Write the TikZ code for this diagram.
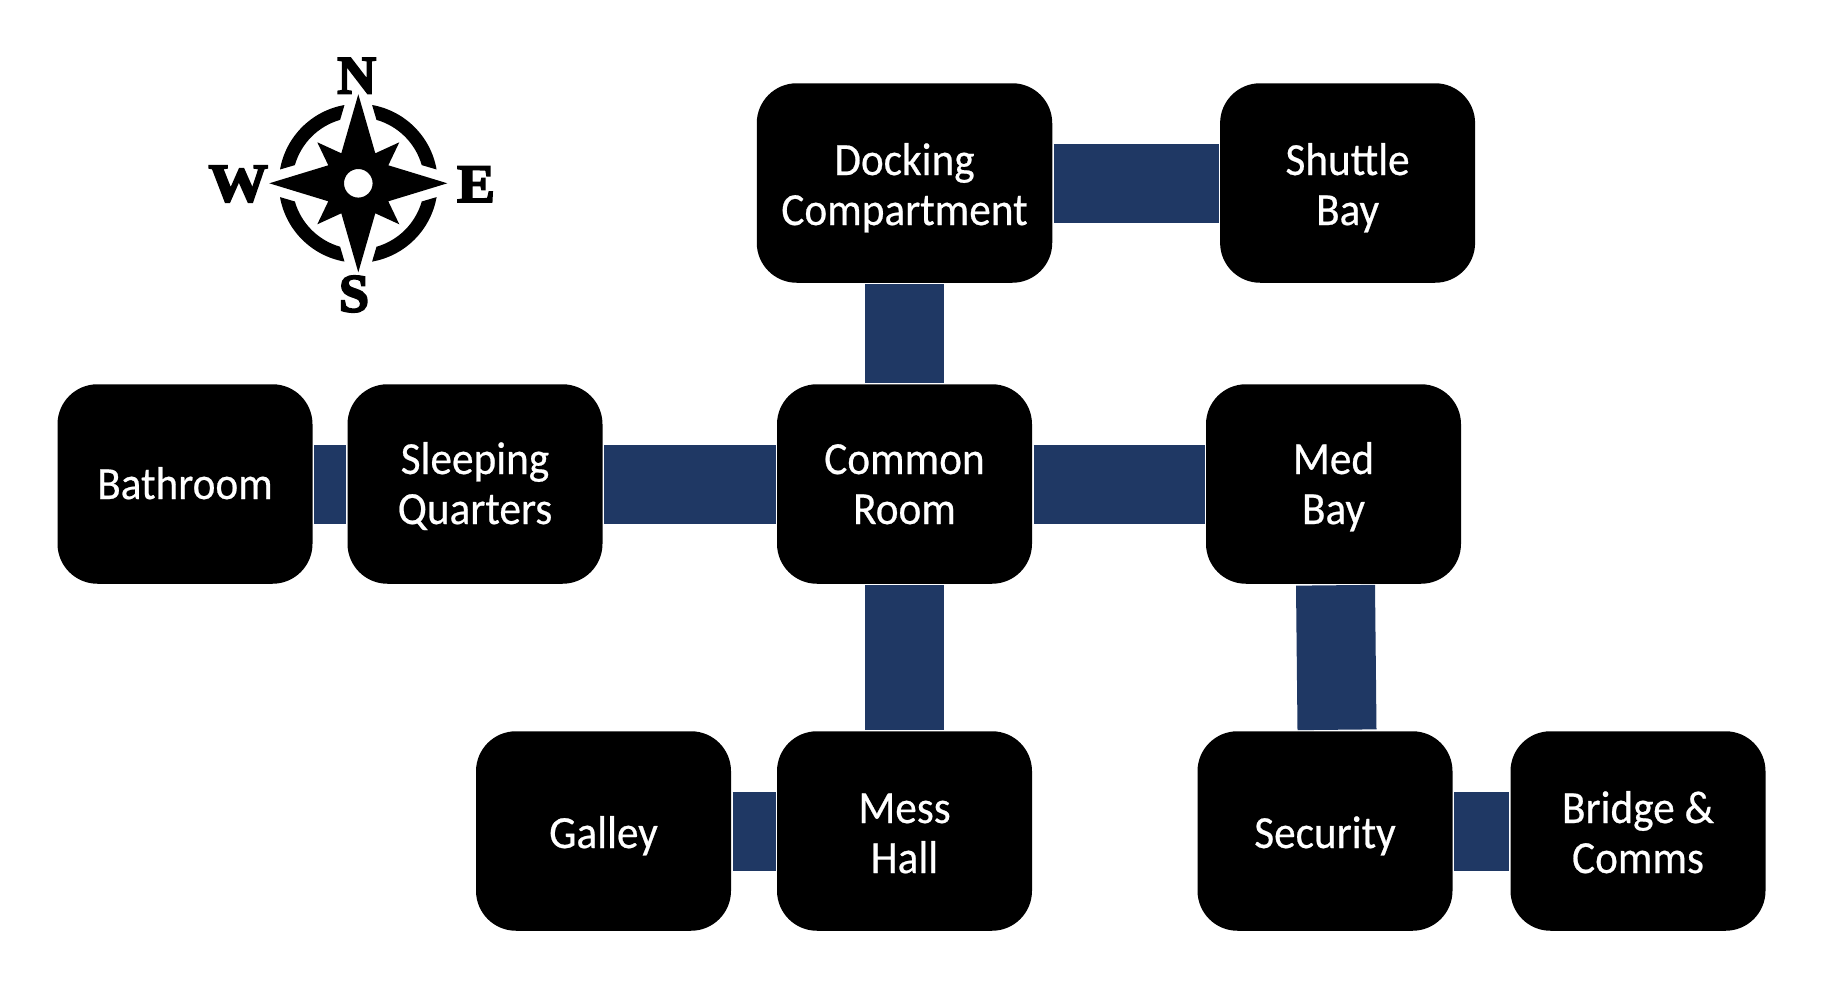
\documentclass[tikz,border=0pt]{standalone}
\usepackage{fontspec}
\usetikzlibrary{calc}
\setmainfont{Carlito}[FakeStretch=0.94,FakeBold=0.5]
\newfontfamily\compassfont{Liberation Serif}[BoldFeatures={FakeBold=3.5}]
\definecolor{corridor}{HTML}{1F3864}
\newcommand{\tstrut}{\rule{0pt}{42pt}}
\newcommand{\tstrutlow}{\rule{0pt}{46pt}}
\newcommand{\bstrut}{\rule[-12pt]{0pt}{12pt}}
\tikzset{
  room/.style={fill=black,text=white,rounded corners=40pt,minimum width=255pt,minimum height=199.5pt,
    inner sep=0pt,outer sep=1.5pt,align=center,font=\fontsize{46}{50}\selectfont},
  wideroom/.style={room,minimum width=295.5pt},
  corridorline/.style={draw=corridor,line width=79pt},
  compassletter/.style={inner sep=0pt,outer sep=0pt,font=\compassfont\bfseries\fontsize{54}{54}\selectfont},
}
\begin{document}
\begin{tikzpicture}[x=1pt,y=-1pt]
\useasboundingbox (0,0) rectangle (1848,1007);
\fill[white] (0,0) rectangle (1848,1007);
\node[wideroom] (dock) at (904.5,183) {\tstrutlow Docking\\Compartment\bstrut};
\node[room] (shuttle) at (1347.6,183) {\tstrutlow Shuttle\\Bay\bstrut};
\node[room] (bath) at (185,484) {\tstrut Bathroom\bstrut};
\node[room] (sleep) at (475,484) {\tstrut Sleeping\\Quarters\bstrut};
\node[room] (common) at (904.5,484) {\tstrut Common\\Room\bstrut};
\node[room] (med) at (1333.5,484) {\tstrut Med\\Bay\bstrut};
\node[room] (galley) at (603.5,831) {\tstrutlow Galley\bstrut};
\node[room] (mess) at (904.5,831) {\tstrutlow Mess\\Hall\bstrut};
\node[room] (security) at (1325,831) {\tstrutlow Security\bstrut};
\node[room] (bridge) at (1638,831) {\tstrutlow Bridge \&\\Comms\bstrut};
\coordinate (secentry) at ($(security.north)+(12,0)$);
\coordinate (medexit) at ($(med.south)+(2,0)$);
\draw[corridorline] (dock) -- (shuttle);
\draw[corridorline] (dock) -- (common);
\draw[corridorline] (bath) -- (sleep);
\draw[corridorline] (sleep) -- (common);
\draw[corridorline] (common) -- (med);
\draw[corridorline] (common) -- (mess);
\draw[corridorline] (galley) -- (mess);
\draw[corridorline] (security) -- (bridge);
\draw[corridorline] (medexit) -- (secentry);
% compass
\begin{scope}[shift={(358.3,183.3)}]
  \fill[even odd rule,black]
    (0pt,89pt) -- (17pt,30pt) -- (41pt,41pt) -- (30pt,18pt) -- (89pt,0pt) -- (30pt,-18pt) -- (41pt,-41pt) -- (17pt,-30pt)
    -- (0pt,-89pt) -- (-17pt,-30pt) -- (-41pt,-41pt) -- (-30pt,-18pt) -- (-89pt,0pt) -- (-30pt,18pt) -- (-41pt,41pt) -- (-17pt,30pt) -- cycle
    (0,0) circle[radius=14.3pt];
  \foreach \r in {0,90,180,270}{
    \fill[black,rotate=\r] (100:79.5pt) arc[start angle=100,end angle=170,radius=79.5pt]
      -- (164:66pt) arc[start angle=164,end angle=106,radius=66pt] -- cycle;
  }
\end{scope}
\node[compassletter] (n) at (356.7,75.7) {N};
\node[compassletter] (s) at (354,294) {S};
\node[compassletter,xscale=1.1] (w) at (238.3,184) {W};
\node[compassletter,xscale=1.05] (e) at (476,184.3) {E};
\end{tikzpicture}
\end{document}
